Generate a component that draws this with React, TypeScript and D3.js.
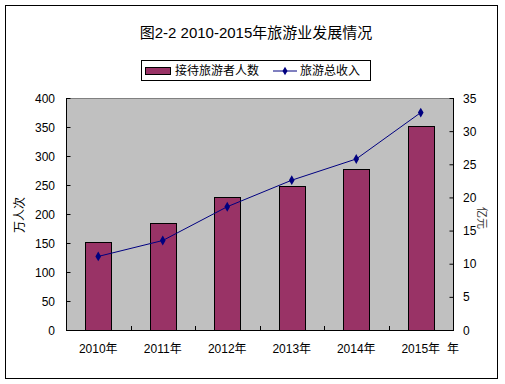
import React, { useEffect, useRef } from "react";
import * as d3 from "d3";

// data
const years = ["2010年", "2011年", "2012年", "2013年", "2014年", "2015年"];
const visitors = [152, 184, 229, 249, 277, 351]; // 万人次
const income = [11.1, 13.5, 18.6, 22.6, 25.8, 32.8]; // 亿元
const leftTicks = [0, 50, 100, 150, 200, 250, 300, 350, 400];
const rightTicks = [0, 5, 10, 15, 20, 25, 30, 35];

const W = 505;
const H = 384;
const plot = { left: 66, right: 453, top: 98, bottom: 330 };
const FONT = "'Liberation Sans', Arial, 'Noto Sans CJK SC', sans-serif";
const CJK = "'Noto Sans CJK SC', 'Liberation Sans', sans-serif";

export default function App() {
  const svgRef = useRef<SVGSVGElement>(null);

  useEffect(() => {
    if (!svgRef.current) return;
    const svg = d3.select(svgRef.current);
    svg.selectAll("*").remove();

    const x = d3
      .scaleBand<string>()
      .domain(years)
      .range([plot.left, plot.right])
      .paddingInner(0.59)
      .paddingOuter(0.295);
    const band = d3.scaleBand<string>().domain(years).range([plot.left, plot.right]);
    const yL = d3.scaleLinear().domain([0, 400]).range([plot.bottom, plot.top]);
    const yR = d3.scaleLinear().domain([0, 35]).range([plot.bottom, plot.top]);

    // outer frame
    svg
      .append("rect")
      .attr("x", 5.5)
      .attr("y", 5.5)
      .attr("width", 492)
      .attr("height", 373)
      .attr("fill", "#fff")
      .attr("stroke", "#000")
      .attr("stroke-width", 1);

    // title
    svg
      .append("text")
      .attr("x", 256)
      .attr("y", 38)
      .attr("text-anchor", "middle")
      .attr("font-family", FONT)
      .attr("font-size", 15)
      .attr("fill", "#000")
      .text("图2-2 2010-2015年旅游业发展情况");

    // legend
    const lg = svg.append("g");
    lg.append("rect")
      .attr("x", 141.5)
      .attr("y", 60.5)
      .attr("width", 229)
      .attr("height", 20)
      .attr("fill", "#fff")
      .attr("stroke", "#000");
    lg.append("rect")
      .attr("x", 145.5)
      .attr("y", 67.5)
      .attr("width", 25)
      .attr("height", 7)
      .attr("fill", "#993366")
      .attr("stroke", "#000");
    lg.append("text")
      .attr("x", 175)
      .attr("y", 75)
      .attr("font-family", CJK)
      .attr("font-size", 12)
      .text("接待旅游者人数");
    lg.append("line")
      .attr("x1", 273)
      .attr("x2", 297)
      .attr("y1", 71)
      .attr("y2", 71)
      .attr("stroke", "#000080");
    lg.append("path")
      .attr("d", d3.symbol(d3.symbolDiamond, 22)())
      .attr("transform", "translate(285,71)")
      .attr("fill", "#000080");
    lg.append("text")
      .attr("x", 300)
      .attr("y", 75)
      .attr("font-family", CJK)
      .attr("font-size", 12)
      .text("旅游总收入");

    // plot area
    svg
      .append("rect")
      .attr("x", plot.left)
      .attr("y", plot.top)
      .attr("width", plot.right - plot.left)
      .attr("height", plot.bottom - plot.top)
      .attr("fill", "#c0c0c0");
    svg
      .append("line")
      .attr("x1", plot.left)
      .attr("x2", plot.right)
      .attr("y1", plot.top + 0.5)
      .attr("y2", plot.top + 0.5)
      .attr("stroke", "#808080");

    // bars
    svg
      .selectAll(".bar")
      .data(visitors)
      .join("rect")
      .attr("class", "bar")
      .attr("x", (_, i) => Math.round(x(years[i])!) + 0.5)
      .attr("y", (d) => Math.round(yL(d)) + 0.5)
      .attr("width", Math.round(x.bandwidth()))
      .attr("height", (d) => Math.round(plot.bottom - yL(d)))
      .attr("fill", "#993366")
      .attr("stroke", "#000")
      .attr("stroke-width", 1);

    // left axis
    const left = svg.append("g").attr("transform", `translate(${plot.left + 0.5},0)`);
    left
      .call(d3.axisRight(yL).tickValues(leftTicks).tickSize(4).tickFormat(() => ""))
      .call((g) => g.select(".domain").remove());
    svg
      .append("line")
      .attr("x1", plot.left + 0.5)
      .attr("x2", plot.left + 0.5)
      .attr("y1", plot.top)
      .attr("y2", plot.bottom)
      .attr("stroke", "#000");
    svg
      .selectAll(".ltick")
      .data(leftTicks)
      .join("text")
      .attr("class", "ltick")
      .attr("x", 55)
      .attr("y", (d) => yL(d) + 4.5)
      .attr("text-anchor", "end")
      .attr("font-family", FONT)
      .attr("font-size", 12)
      .text((d) => d);

    // right axis
    const right = svg.append("g").attr("transform", `translate(${plot.right + 0.5},0)`);
    right
      .call(d3.axisLeft(yR).tickValues(rightTicks).tickSize(4).tickFormat(() => ""))
      .call((g) => g.select(".domain").remove());
    svg
      .append("line")
      .attr("x1", plot.right + 0.5)
      .attr("x2", plot.right + 0.5)
      .attr("y1", plot.top)
      .attr("y2", plot.bottom)
      .attr("stroke", "#000");
    svg
      .selectAll(".rtick")
      .data(rightTicks)
      .join("text")
      .attr("class", "rtick")
      .attr("x", 463)
      .attr("y", (d) => yR(d) + 4.5)
      .attr("text-anchor", "start")
      .attr("font-family", FONT)
      .attr("font-size", 12)
      .text((d) => d);

    // x axis
    svg
      .append("line")
      .attr("x1", plot.left)
      .attr("x2", plot.right + 1)
      .attr("y1", plot.bottom + 0.5)
      .attr("y2", plot.bottom + 0.5)
      .attr("stroke", "#000");
    svg
      .selectAll(".xtick")
      .data(years.slice(1))
      .join("line")
      .attr("class", "xtick")
      .attr("x1", (d) => Math.round(band(d)!) + 0.5)
      .attr("x2", (d) => Math.round(band(d)!) + 0.5)
      .attr("y1", plot.bottom)
      .attr("y2", plot.bottom - 4)
      .attr("stroke", "#000");
    svg
      .selectAll(".xlabel")
      .data(years)
      .join("text")
      .attr("class", "xlabel")
      .attr("x", (d) => band(d)! + band.bandwidth() / 2)
      .attr("y", 353)
      .attr("text-anchor", "middle")
      .attr("font-family", FONT)
      .attr("font-size", 12)
      .text((d) => d);
    svg
      .append("text")
      .attr("x", 453)
      .attr("y", 353)
      .attr("text-anchor", "middle")
      .attr("font-family", CJK)
      .attr("font-size", 12)
      .text("年");

    // income line
    const cx = (i: number) => band(years[i])! + band.bandwidth() / 2;
    const line = d3
      .line<number>()
      .x((_, i) => cx(i))
      .y((d) => yR(d));
    svg
      .append("path")
      .datum(income)
      .attr("d", line)
      .attr("fill", "none")
      .attr("stroke", "#000080")
      .attr("stroke-width", 1);
    svg
      .selectAll(".pt")
      .data(income)
      .join("path")
      .attr("class", "pt")
      .attr("d", d3.symbol(d3.symbolDiamond, 28)())
      .attr("transform", (d, i) => `translate(${cx(i)},${yR(d)})`)
      .attr("fill", "#000080");

    // axis titles
    svg
      .append("text")
      .attr("transform", "translate(24,215) rotate(-90)")
      .attr("text-anchor", "middle")
      .attr("font-family", CJK)
      .attr("font-size", 12)
      .text("万人次");
    svg
      .append("text")
      .attr("transform", "translate(478,218) rotate(90)")
      .attr("text-anchor", "middle")
      .attr("font-family", CJK)
      .attr("font-size", 11)
      .attr("fill", "#333")
      .text("亿元");
  }, []);

  return (
    <svg
      ref={svgRef}
      width={W}
      height={H}
      style={{ position: "absolute", left: 0, top: 0 }}
    />
  );
}
